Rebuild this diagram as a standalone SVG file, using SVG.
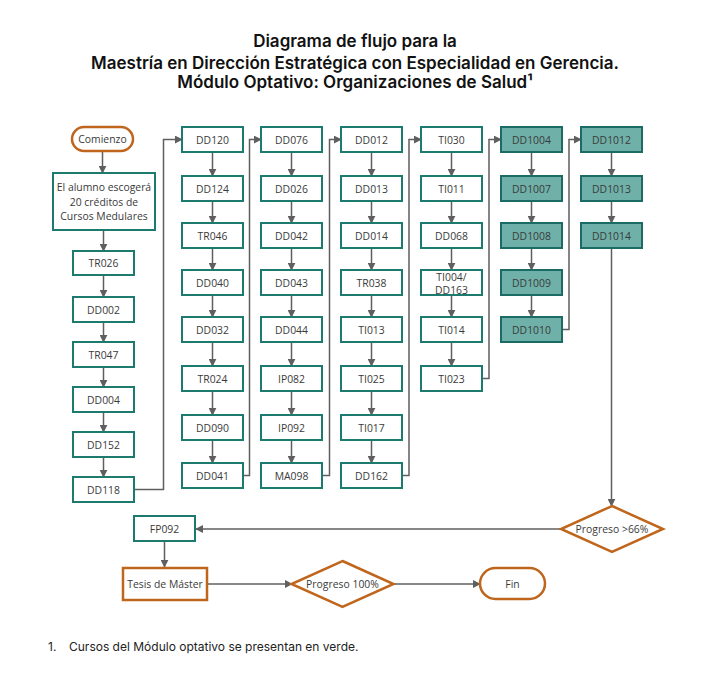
<svg xmlns="http://www.w3.org/2000/svg" width="716" height="686" viewBox="0 0 716 686">
<defs>
<style>
.n rect{fill:#fff;stroke:#1d7a6f;stroke-width:2}
.g rect{fill:#6fb0a8;stroke:#1a6b63;stroke-width:2}
.o rect,.o polygon{fill:#fff;stroke:#c0651c;stroke-width:2.5}
text.t{font-family:"Open Sans","Liberation Sans",sans-serif;font-size:10.4px;fill:#3a3a3a;text-anchor:middle;dominant-baseline:central}
.c path,.c line{fill:none;stroke:#5f5f5f;stroke-width:1.5}
.title{font-family:Inter,"Liberation Sans",sans-serif;font-size:17px;font-weight:600;fill:#111;text-anchor:middle}
.foot{font-family:Inter,"Liberation Sans",sans-serif;font-size:12px;fill:#222}
</style>
<marker id="ah" viewBox="0 0 10 10" refX="9" refY="5" markerWidth="8" markerHeight="8" markerUnits="userSpaceOnUse" orient="auto">
<path d="M0,0 L10,5 L0,10 z" fill="#5f5f5f"/>
</marker>
</defs>
<rect width="716" height="686" fill="#fff"/>
<g id="title">
<text class="title" x="355" y="47">Diagrama de flujo para la</text>
<text class="title" x="355" y="68.5">Maestría en Dirección Estratégica con Especialidad en Gerencia.</text>
<text class="title" x="355" y="88">Módulo Optativo: Organizaciones de Salud¹</text>
</g>
<g id="connectors" class="c">
<line x1="102.5" y1="151" x2="102.5" y2="173" marker-end="url(#ah)"/>
<line x1="103.5" y1="230" x2="103.5" y2="251" marker-end="url(#ah)"/>
<line x1="103.5" y1="275" x2="103.5" y2="297" marker-end="url(#ah)"/>
<line x1="103.5" y1="322" x2="103.5" y2="342" marker-end="url(#ah)"/>
<line x1="103.5" y1="367" x2="103.5" y2="387" marker-end="url(#ah)"/>
<line x1="103.5" y1="412" x2="103.5" y2="432" marker-end="url(#ah)"/>
<line x1="103.5" y1="457" x2="103.5" y2="477" marker-end="url(#ah)"/>
<path d="M134,489.5 H163.5 V139.5 H182" marker-end="url(#ah)"/>
<line x1="212.5" y1="152" x2="212.5" y2="176" marker-end="url(#ah)"/>
<line x1="212.5" y1="201" x2="212.5" y2="223" marker-end="url(#ah)"/>
<line x1="212.5" y1="248" x2="212.5" y2="270" marker-end="url(#ah)"/>
<line x1="212.5" y1="295" x2="212.5" y2="317" marker-end="url(#ah)"/>
<line x1="212.5" y1="342" x2="212.5" y2="366" marker-end="url(#ah)"/>
<line x1="212.5" y1="391" x2="212.5" y2="415" marker-end="url(#ah)"/>
<line x1="212.5" y1="440" x2="212.5" y2="463" marker-end="url(#ah)"/>
<path d="M243,475.5 H249.5 V139.5 H261" marker-end="url(#ah)"/>
<line x1="291.5" y1="152" x2="291.5" y2="176" marker-end="url(#ah)"/>
<line x1="291.5" y1="201" x2="291.5" y2="223" marker-end="url(#ah)"/>
<line x1="291.5" y1="248" x2="291.5" y2="270" marker-end="url(#ah)"/>
<line x1="291.5" y1="295" x2="291.5" y2="317" marker-end="url(#ah)"/>
<line x1="291.5" y1="342" x2="291.5" y2="366" marker-end="url(#ah)"/>
<line x1="291.5" y1="391" x2="291.5" y2="415" marker-end="url(#ah)"/>
<line x1="291.5" y1="440" x2="291.5" y2="463" marker-end="url(#ah)"/>
<path d="M322,475.5 H329.5 V139.5 H341" marker-end="url(#ah)"/>
<line x1="371.5" y1="152" x2="371.5" y2="176" marker-end="url(#ah)"/>
<line x1="371.5" y1="201" x2="371.5" y2="223" marker-end="url(#ah)"/>
<line x1="371.5" y1="248" x2="371.5" y2="270" marker-end="url(#ah)"/>
<line x1="371.5" y1="295" x2="371.5" y2="317" marker-end="url(#ah)"/>
<line x1="371.5" y1="342" x2="371.5" y2="366" marker-end="url(#ah)"/>
<line x1="371.5" y1="391" x2="371.5" y2="415" marker-end="url(#ah)"/>
<line x1="371.5" y1="440" x2="371.5" y2="463" marker-end="url(#ah)"/>
<path d="M402,475.5 H409 V139.5 H421" marker-end="url(#ah)"/>
<line x1="451.5" y1="152" x2="451.5" y2="176" marker-end="url(#ah)"/>
<line x1="451.5" y1="201" x2="451.5" y2="223" marker-end="url(#ah)"/>
<line x1="451.5" y1="248" x2="451.5" y2="270" marker-end="url(#ah)"/>
<line x1="451.5" y1="295" x2="451.5" y2="317" marker-end="url(#ah)"/>
<line x1="451.5" y1="342" x2="451.5" y2="366" marker-end="url(#ah)"/>
<path d="M482,378.5 H489 V139.5 H501" marker-end="url(#ah)"/>
<line x1="531.5" y1="152" x2="531.5" y2="176" marker-end="url(#ah)"/>
<line x1="531.5" y1="201" x2="531.5" y2="223" marker-end="url(#ah)"/>
<line x1="531.5" y1="248" x2="531.5" y2="270" marker-end="url(#ah)"/>
<line x1="531.5" y1="295" x2="531.5" y2="317" marker-end="url(#ah)"/>
<path d="M562,329.5 H569 V139.5 H581" marker-end="url(#ah)"/>
<line x1="611.5" y1="152" x2="611.5" y2="176" marker-end="url(#ah)"/>
<line x1="611.5" y1="201" x2="611.5" y2="223" marker-end="url(#ah)"/>
<line x1="611.5" y1="248" x2="611.5" y2="506" marker-end="url(#ah)"/>
<line x1="561" y1="529" x2="196" y2="529" marker-end="url(#ah)"/>
<line x1="164.5" y1="541" x2="164.5" y2="567" marker-end="url(#ah)"/>
<line x1="207" y1="584" x2="292" y2="584" marker-end="url(#ah)"/>
<line x1="393.5" y1="584" x2="480" y2="584" marker-end="url(#ah)"/>
</g>
<g id="comienzo" class="o"><rect x="72" y="127" width="61" height="24" rx="12"/><text class="t" x="102.5" y="139">Comienzo</text></g>
<g id="intro" class="n"><rect x="53" y="173" width="102" height="57"/><text class="t" x="104" y="187">El alumno escogerá</text><text class="t" x="104" y="201.5">20 créditos de</text><text class="t" x="104" y="216">Cursos Medulares</text></g>
<g id="TR026" class="n"><rect x="73" y="251" width="61" height="24"/><text class="t" x="103.5" y="263">TR026</text></g>
<g id="DD002" class="n"><rect x="73" y="297" width="61" height="25"/><text class="t" x="103.5" y="309.5">DD002</text></g>
<g id="TR047" class="n"><rect x="73" y="342" width="61" height="25"/><text class="t" x="103.5" y="354.5">TR047</text></g>
<g id="DD004" class="n"><rect x="73" y="387" width="61" height="25"/><text class="t" x="103.5" y="399.5">DD004</text></g>
<g id="DD152" class="n"><rect x="73" y="432" width="61" height="25"/><text class="t" x="103.5" y="444.5">DD152</text></g>
<g id="DD118" class="n"><rect x="73" y="477" width="61" height="25"/><text class="t" x="103.5" y="489.5">DD118</text></g>

<g id="DD120" class="n"><rect x="182" y="127" width="61" height="25"/><text class="t" x="212.5" y="139.5">DD120</text></g>
<g id="DD124" class="n"><rect x="182" y="176" width="61" height="25"/><text class="t" x="212.5" y="188.5">DD124</text></g>
<g id="TR046" class="n"><rect x="182" y="223" width="61" height="25"/><text class="t" x="212.5" y="235.5">TR046</text></g>
<g id="DD040" class="n"><rect x="182" y="270" width="61" height="25"/><text class="t" x="212.5" y="282.5">DD040</text></g>
<g id="DD032" class="n"><rect x="182" y="317" width="61" height="25"/><text class="t" x="212.5" y="329.5">DD032</text></g>
<g id="TR024" class="n"><rect x="182" y="366" width="61" height="25"/><text class="t" x="212.5" y="378.5">TR024</text></g>
<g id="DD090" class="n"><rect x="182" y="415" width="61" height="25"/><text class="t" x="212.5" y="427.5">DD090</text></g>
<g id="DD041" class="n"><rect x="182" y="463" width="61" height="25"/><text class="t" x="212.5" y="475.5">DD041</text></g>

<g id="DD076" class="n"><rect x="261" y="127" width="61" height="25"/><text class="t" x="291.5" y="139.5">DD076</text></g>
<g id="DD026" class="n"><rect x="261" y="176" width="61" height="25"/><text class="t" x="291.5" y="188.5">DD026</text></g>
<g id="DD042" class="n"><rect x="261" y="223" width="61" height="25"/><text class="t" x="291.5" y="235.5">DD042</text></g>
<g id="DD043" class="n"><rect x="261" y="270" width="61" height="25"/><text class="t" x="291.5" y="282.5">DD043</text></g>
<g id="DD044" class="n"><rect x="261" y="317" width="61" height="25"/><text class="t" x="291.5" y="329.5">DD044</text></g>
<g id="IP082" class="n"><rect x="261" y="366" width="61" height="25"/><text class="t" x="291.5" y="378.5">IP082</text></g>
<g id="IP092" class="n"><rect x="261" y="415" width="61" height="25"/><text class="t" x="291.5" y="427.5">IP092</text></g>
<g id="MA098" class="n"><rect x="261" y="463" width="61" height="25"/><text class="t" x="291.5" y="475.5">MA098</text></g>

<g id="DD012" class="n"><rect x="341" y="127" width="61" height="25"/><text class="t" x="371.5" y="139.5">DD012</text></g>
<g id="DD013" class="n"><rect x="341" y="176" width="61" height="25"/><text class="t" x="371.5" y="188.5">DD013</text></g>
<g id="DD014" class="n"><rect x="341" y="223" width="61" height="25"/><text class="t" x="371.5" y="235.5">DD014</text></g>
<g id="TR038" class="n"><rect x="341" y="270" width="61" height="25"/><text class="t" x="371.5" y="282.5">TR038</text></g>
<g id="TI013" class="n"><rect x="341" y="317" width="61" height="25"/><text class="t" x="371.5" y="329.5">TI013</text></g>
<g id="TI025" class="n"><rect x="341" y="366" width="61" height="25"/><text class="t" x="371.5" y="378.5">TI025</text></g>
<g id="TI017" class="n"><rect x="341" y="415" width="61" height="25"/><text class="t" x="371.5" y="427.5">TI017</text></g>
<g id="DD162" class="n"><rect x="341" y="463" width="61" height="25"/><text class="t" x="371.5" y="475.5">DD162</text></g>

<g id="TI030" class="n"><rect x="421" y="127" width="61" height="25"/><text class="t" x="451.5" y="139.5">TI030</text></g>
<g id="TI011" class="n"><rect x="421" y="176" width="61" height="25"/><text class="t" x="451.5" y="188.5">TI011</text></g>
<g id="DD068" class="n"><rect x="421" y="223" width="61" height="25"/><text class="t" x="451.5" y="235.5">DD068</text></g>
<g id="TI004" class="n"><rect x="421" y="270" width="61" height="25"/><text class="t" x="451.5" y="276.5">TI004/</text><text class="t" x="451.5" y="290">DD163</text></g>
<g id="TI014" class="n"><rect x="421" y="317" width="61" height="25"/><text class="t" x="451.5" y="329.5">TI014</text></g>
<g id="TI023" class="n"><rect x="421" y="366" width="61" height="25"/><text class="t" x="451.5" y="378.5">TI023</text></g>

<g id="DD1004" class="g"><rect x="501" y="127" width="61" height="25"/><text class="t" x="531.5" y="139.5">DD1004</text></g>
<g id="DD1007" class="g"><rect x="501" y="176" width="61" height="25"/><text class="t" x="531.5" y="188.5">DD1007</text></g>
<g id="DD1008" class="g"><rect x="501" y="223" width="61" height="25"/><text class="t" x="531.5" y="235.5">DD1008</text></g>
<g id="DD1009" class="g"><rect x="501" y="270" width="61" height="25"/><text class="t" x="531.5" y="282.5">DD1009</text></g>
<g id="DD1010" class="g"><rect x="501" y="317" width="61" height="25"/><text class="t" x="531.5" y="329.5">DD1010</text></g>

<g id="DD1012" class="g"><rect x="581" y="127" width="61" height="25"/><text class="t" x="611.5" y="139.5">DD1012</text></g>
<g id="DD1013" class="g"><rect x="581" y="176" width="61" height="25"/><text class="t" x="611.5" y="188.5">DD1013</text></g>
<g id="DD1014" class="g"><rect x="581" y="223" width="61" height="25"/><text class="t" x="611.5" y="235.5">DD1014</text></g>

<g id="progreso66" class="o"><polygon points="612,506 663,529 612,552 561,529"/><text class="t" x="612" y="529">Progreso &gt;66%</text></g>
<g id="FP092" class="n"><rect x="134" y="516" width="61" height="25"/><text class="t" x="164.5" y="528.5">FP092</text></g>
<g id="tesis" class="o"><rect x="123" y="568" width="84" height="32"/><text class="t" x="165" y="584">Tesis de Máster</text></g>
<g id="progreso100" class="o"><polygon points="342.5,561 393.5,584 342.5,607 291.5,584"/><text class="t" x="342.5" y="584">Progreso 100%</text></g>
<g id="fin" class="o"><rect x="480" y="568" width="65" height="31" rx="15.5"/><text class="t" x="512.5" y="583.5">Fin</text></g>

<g id="footnote">
<text class="foot" x="48" y="651">1.</text>
<text class="foot" x="69" y="651">Cursos del Módulo optativo se presentan en verde.</text>
</g>
</svg>
